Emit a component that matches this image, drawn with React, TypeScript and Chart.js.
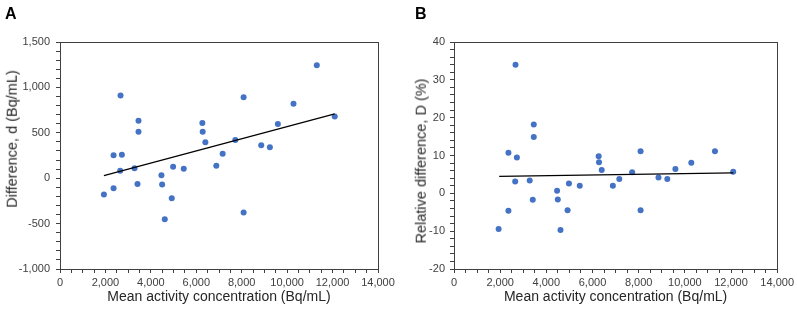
import React, { useEffect, useRef } from "react";
import { Chart, registerables } from "chart.js";

Chart.register(...registerables);

// Shared x values: mean activity concentration (Bq/mL)
const meanConc = [
  1933, 2358, 2358, 2665, 2724, 2650, 3280, 3412, 3456, 3456,
  4466, 4496, 4613, 4920, 4979, 5447, 6267, 6282, 6399, 6882,
  7161, 7717, 8083, 8083, 8859, 9240, 9591, 10280, 11305, 12095,
];
// Panel A: difference d (Bq/mL)
const diffA = [
  -180, -110, 252, 911, 259, 83, 109, -63, 633, 512,
  32, -70, -451, -220, 127, 105, 607, 512, 395, 138,
  270, 420, 892, -378, 362, 340, 596, 819, 1244, 680,
];
// Panel B: relative difference D (%)
const relB = [
  -9.4, -4.6, 10.7, 34.0, 9.5, 3.1, 3.4, -1.7, 18.2, 14.9,
  0.7, -1.6, -9.7, -4.5, 2.6, 2.0, 9.8, 8.2, 6.2, 2.0,
  3.8, 5.6, 11.1, -4.5, 4.2, 3.8, 6.4, 8.1, 11.1, 5.7,
];
// Trend lines (endpoints)
const trendAx = [1933, 12095];
const trendAy = [29, 709];
const trendBx = [1959, 12098];
const trendBy = [4.5, 5.4];

const xTickLabelsEvery = 2000;
const yTickLabelsEveryA = 500;
const yTickLabelsEveryB = 10;

const FONT = "'Liberation Sans', Arial, sans-serif";
const AXIS = "#404040";

const borderPlugin = {
  id: "plotBorder",
  afterDraw(chart: any) {
    const { ctx, chartArea } = chart;
    ctx.save();
    ctx.strokeStyle = AXIS;
    ctx.lineWidth = 1;
    ctx.strokeRect(
      Math.round(chartArea.left) + 0.5,
      Math.round(chartArea.top) + 0.5,
      Math.round(chartArea.right - chartArea.left),
      Math.round(chartArea.bottom - chartArea.top)
    );
    ctx.restore();
  },
};

function fmt(v: number) {
  return v.toLocaleString("en-US");
}

function makeConfig(opts: {
  ys: number[];
  tx: number[];
  ty: number[];
  ymin: number;
  ymax: number;
  ystep: number;
  yEvery: number;
  yWidth: number;
  padRight: number;
  yPad: number;
}) {
  return {
    type: "scatter",
    data: {
      datasets: [
        {
          type: "line",
          data: opts.tx.map((x, i) => ({ x, y: opts.ty[i] })),
          borderColor: "#000000",
          borderWidth: 1.2,
          pointRadius: 0,
          showLine: true,
          fill: false,
          order: 0,
        },
        {
          data: meanConc.map((x, i) => ({ x, y: opts.ys[i] })),
          backgroundColor: "#4472C4",
          borderWidth: 0,
          pointRadius: 3,
          order: 1,
        },
      ],
    },
    options: {
      animation: false,
      responsive: false,
      maintainAspectRatio: false,
      layout: { padding: { top: 42, right: opts.padRight, left: 0, bottom: 0 } },
      plugins: { legend: { display: false }, tooltip: { enabled: false } },
      scales: {
        x: {
          type: "linear",
          min: 0,
          max: 14000,
          afterFit(scale: any) {
            scale.height = 40;
          },
          ticks: {
            stepSize: 500,
            autoSkip: false,
            maxRotation: 0,
            padding: 3,
            color: AXIS,
            font: { family: FONT, size: 11 },
            callback: (v: number) => (v % xTickLabelsEvery === 0 ? fmt(v) : ""),
          },
          grid: { drawOnChartArea: false, drawTicks: true, tickLength: 4, color: AXIS },
          border: { display: true, color: AXIS, width: 1 },
          title: {
            display: true,
            text: "Mean activity concentration (Bq/mL)",
            color: "#262626",
            font: { family: FONT, size: 14, lineHeight: 1.2 },
            padding: { top: 0, bottom: 3.6 },
          },
        },
        y: {
          type: "linear",
          min: opts.ymin,
          max: opts.ymax,
          afterFit(scale: any) {
            scale.width = opts.yWidth;
          },
          ticks: {
            stepSize: opts.ystep,
            autoSkip: false,
            padding: opts.yPad,
            color: AXIS,
            font: { family: FONT, size: 11 },
            callback: (v: number) => (Math.abs(v % opts.yEvery) < 1e-9 ? fmt(v) : ""),
          },
          grid: { drawOnChartArea: false, drawTicks: true, tickLength: 4, color: AXIS },
          border: { display: true, color: AXIS, width: 1 },
        },
      },
    },
    plugins: [borderPlugin],
  } as any;
}

function ChartCanvas(props: { config: any; left: number; width: number }) {
  const ref = useRef<HTMLCanvasElement | null>(null);
  useEffect(() => {
    if (!ref.current) return;
    const c = new Chart(ref.current, props.config);
    return () => c.destroy();
  }, []);
  return (
    <canvas
      ref={ref}
      width={props.width}
      height={309}
      style={{ position: "absolute", left: props.left, top: 0, width: props.width, height: 309 }}
    />
  );
}

const textBase: React.CSSProperties = {
  position: "absolute",
  fontFamily: FONT,
  whiteSpace: "nowrap",
  lineHeight: 1,
};

function YTitle(props: { text: string; cx: number; cy: number }) {
  return (
    <div
      style={{
        ...textBase,
        left: props.cx,
        top: props.cy,
        fontSize: 14.5,
        color: "#262626",
        transform: "translate(-50%, -50%) rotate(-90deg)",
      }}
    >
      {props.text}
    </div>
  );
}

export default function App() {
  const cfgA = makeConfig({
    ys: diffA, tx: trendAx, ty: trendAy,
    ymin: -1000, ymax: 1500, ystep: 100, yEvery: yTickLabelsEveryA,
    yWidth: 60, padRight: 22, yPad: 6,
  });
  const cfgB = makeConfig({
    ys: relB, tx: trendBx, ty: trendBy,
    ymin: -20, ymax: 40, ystep: 2, yEvery: yTickLabelsEveryB,
    yWidth: 54, padRight: 19, yPad: 5,
  });
  return (
    <div style={{ position: "fixed", left: 0, top: 0, width: 797, height: 309, background: "#fff", overflow: "hidden" }}>
      <ChartCanvas config={cfgA} left={0} width={400} />
      <ChartCanvas config={cfgB} left={400} width={397} />
      <div style={{ ...textBase, left: 5, top: 6, fontSize: 16, fontWeight: "bold", color: "#000" }}>A</div>
      <div style={{ ...textBase, left: 415, top: 6, fontSize: 16, fontWeight: "bold", color: "#000" }}>B</div>
      <YTitle text="Difference, d (Bq/mL)" cx={12} cy={139} />
      <YTitle text="Relative difference, D (%)" cx={421} cy={161} />
    </div>
  );
}
